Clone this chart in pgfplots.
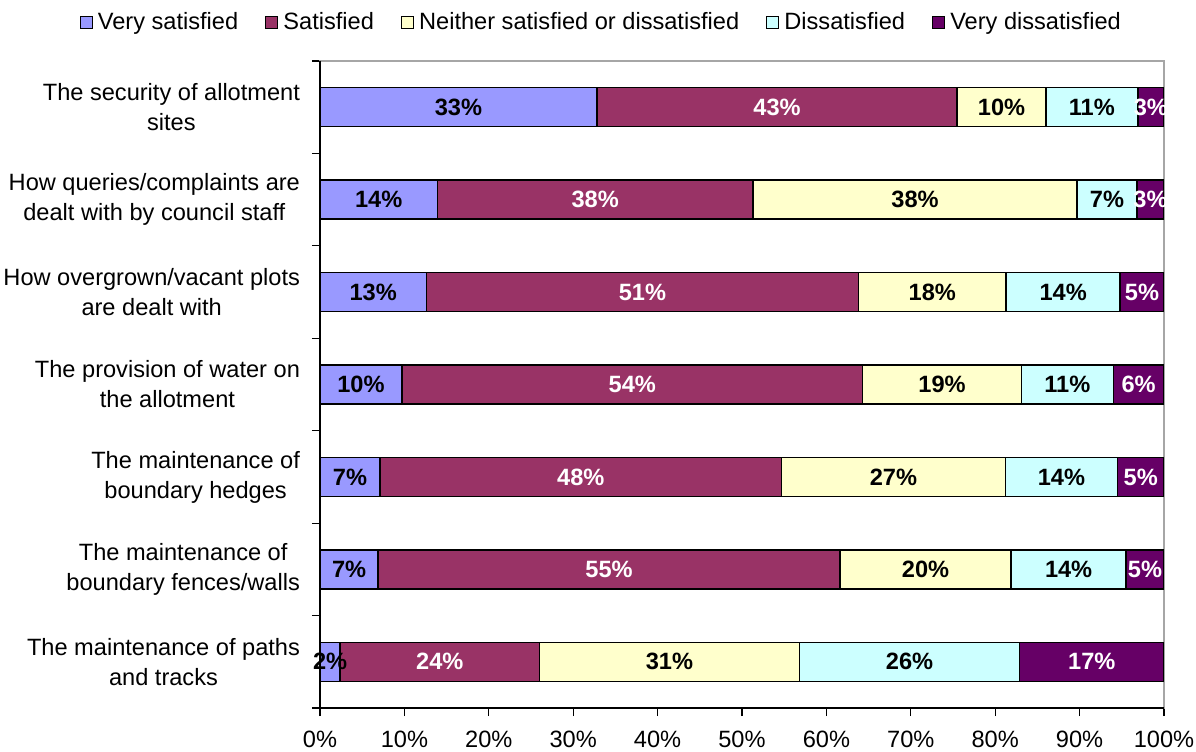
\documentclass[border=0pt]{standalone}
\usepackage{pgfplots}
\pgfplotsset{compat=1.18}
\usepackage{pgfplotstable}
\usepackage{fontspec}
\setmainfont{Liberation Sans}
\definecolor{cvs}{HTML}{9999FF}
\definecolor{cs}{HTML}{993366}
\definecolor{cn}{HTML}{FFFFCC}
\definecolor{cd}{HTML}{CCFFFF}
\definecolor{cvd}{HTML}{660066}

\pgfplotstableread{
y v lab
6 32.8 33
5 13.9 14
4 12.6 13
3 9.7 10
2 7.1 7
1 6.9 7
0 2.4 2
}\tvs
\pgfplotstableread{
y v lab
6 42.7 43
5 37.4 38
4 51.2 51
3 54.6 54
2 47.6 48
1 54.7 55
0 23.6 24
}\ts
\pgfplotstableread{
y v lab
6 10.5 10
5 38.4 38
4 17.5 18
3 18.8 19
2 26.5 27
1 20.3 20
0 30.8 31
}\tn
\pgfplotstableread{
y v lab
6 10.9 11
5 7.1 7
4 13.5 14
3 10.9 11
2 13.3 14
1 13.6 14
0 26.1 26
}\td
\pgfplotstableread{
y v lab
6 3.1 3
5 3.2 3
4 5.2 5
3 6.0 6
2 5.5 5
1 4.5 5
0 17.1 17
}\tvd

\newcommand{\fnt}{\fontsize{11.8}{15}\selectfont}

\begin{document}
\begin{tikzpicture}
\path[use as bounding box] (-160pt,-21.5pt) rectangle (438pt,354pt);
\begin{axis}[
  at={(0,0)}, anchor=south west,
  scale only axis, width=422pt, height=323.5pt,
  xbar stacked, bar width=19.5pt,
  xmin=0, xmax=100, ymin=-0.5, ymax=6.5,
  xtick={0,10,...,100},
  /pgf/number format/assume math mode=true,
  xticklabel={\pgfmathprintnumber{\tick}\%},
  xticklabel style={yshift=-4pt},
  ytick={-0.5,0.5,...,6.5},
  yticklabels={},
  extra y ticks={0,1,2,3,4,5,6},
  extra y tick labels={
    {The maintenance of paths\\and tracks},
    {The maintenance of\\boundary fences/walls},
    {The maintenance of\\boundary hedges},
    {The provision of water on\\the allotment},
    {How overgrown/vacant plots\\are dealt with},
    {How queries/complaints are\\dealt with by council staff},
    {The security of allotment\\sites}},
  extra y tick style={major tick length=0pt},
  tick align=outside, tick pos=left,
  major tick length=4pt,
  tick style={black, line width=0.6pt},
  axis line style={gray!70, line width=0.6pt},
  tick label style={font=\fnt},
  y tick label style={align=center, xshift=-6.5pt},
  legend style={at={(0.335,1.060)}, anchor=center, draw=none, fill=none,
    legend columns=-1, font=\fnt, inner sep=0pt,
    nodes={inner xsep=2.5pt},
    /tikz/every even column/.append style={column sep=11pt}},
  point meta=explicit symbolic,
  nodes near coords={\pgfplotspointmeta\%},
  every node near coord/.append style={anchor=center, font=\fnt\bfseries},
  mybar/.style={fill=#1, draw=black, line width=0.75pt,
    legend image code/.code={\draw[fill=#1, draw=black, line width=0.6pt] (0pt,-3pt) rectangle (6pt,3pt);}},
  after end axis/.code={\draw[black, line width=0.9pt] (rel axis cs:0,1) -- (rel axis cs:0,0) -- (rel axis cs:1,0);},
]
\addplot[mybar=cvs] table[x=v,y=y,meta=lab]{\tvs};
\addplot[mybar=cs, every node near coord/.append style={text=white}] table[x=v,y=y,meta=lab]{\ts};
\addplot[mybar=cn] table[x=v,y=y,meta=lab]{\tn};
\addplot[mybar=cd] table[x=v,y=y,meta=lab]{\td};
\addplot[mybar=cvd, every node near coord/.append style={text=white}] table[x=v,y=y,meta=lab]{\tvd};
\legend{Very satisfied, Satisfied, Neither satisfied or dissatisfied, Dissatisfied, Very dissatisfied}
\end{axis}
\end{tikzpicture}
\end{document}
